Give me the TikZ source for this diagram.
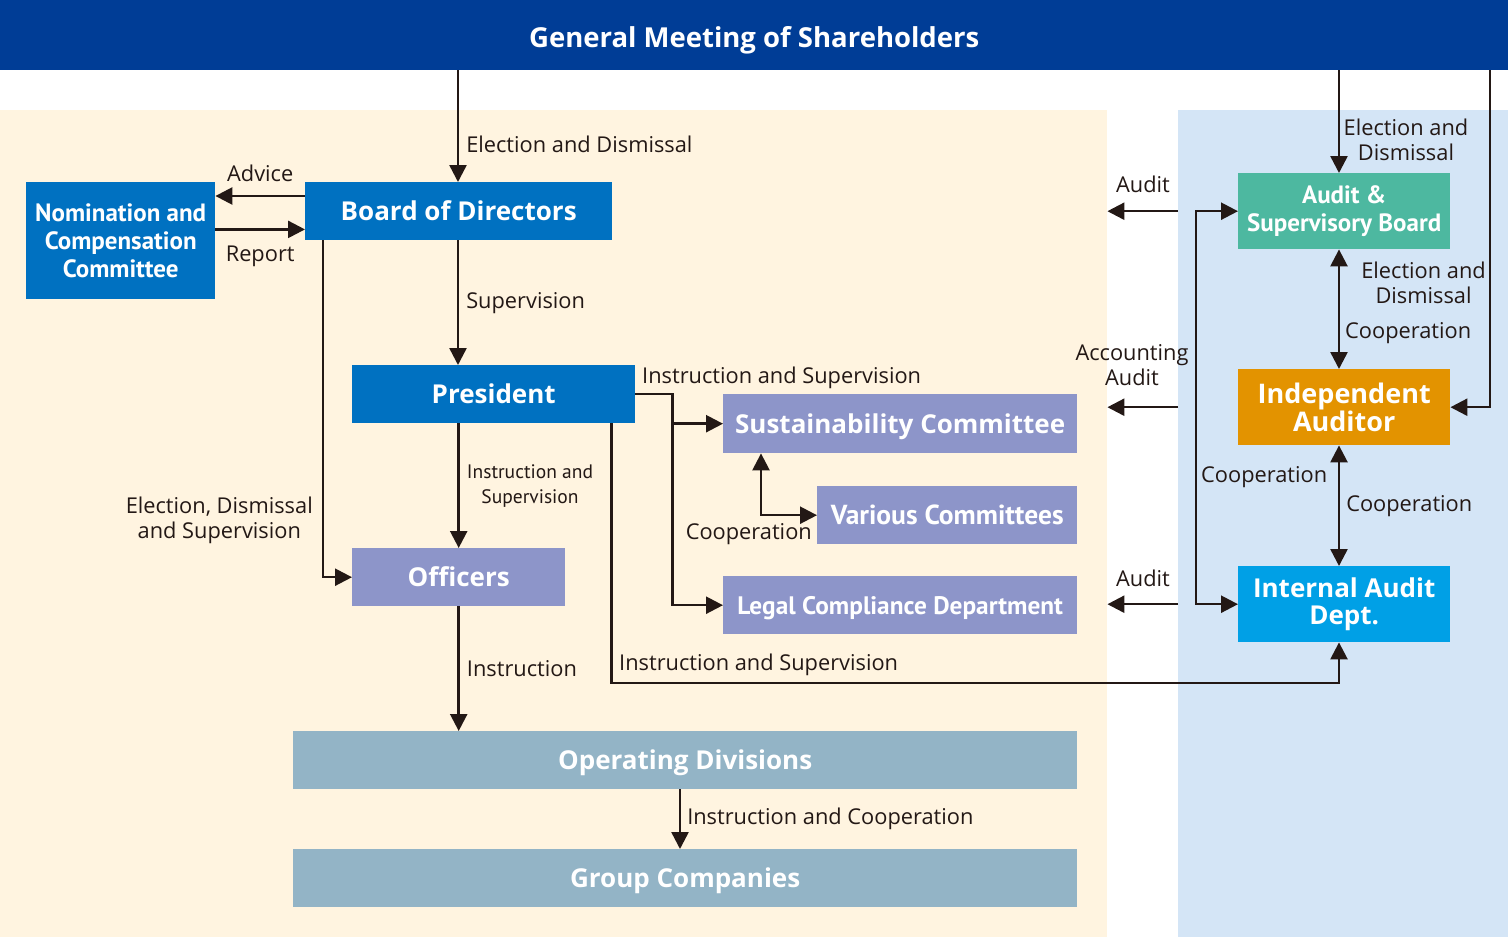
\documentclass[tikz,border=0pt]{standalone}
\usepackage{fontspec}
\setmainfont{Open Sans}
\newfontfamily\boxfont{PT Sans}
\usetikzlibrary{arrows.meta, positioning}
\definecolor{gmblue}{HTML}{003D96}
\definecolor{bdblue}{HTML}{0071C1}
\definecolor{lilac}{HTML}{8D95C9}
\definecolor{slate}{HTML}{93B4C6}
\definecolor{teal}{HTML}{4DB8A0}
\definecolor{amber}{HTML}{E39300}
\definecolor{sky}{HTML}{00A0E6}
\definecolor{cream}{HTML}{FFF4E0}
\definecolor{paleblue}{HTML}{D4E5F6}
\definecolor{ink}{HTML}{231815}
\tikzset{
x=1pt, y=-1pt, % one unit is one pixel of the layout
>={Triangle[length=17pt,width=17pt]}, % solid heads
link/.style={draw=ink, line width=2.5pt}, % every connector
box/.style={anchor=north west, inner sep=0, align=center, text=white, font=\bfseries\fontsize{26}{27}\selectfont}, % filled boxes
narrowbox/.style={box, font=\boxfont\bfseries\fontsize{25}{28}\selectfont}, % boxes with condensed text
oneline/.style={text height=18.6pt, text depth=0pt}, % centres the capitals of a single line
lbl/.style={text=ink, inner sep=0, align=center, font=\fontsize{21.8}{25}\selectfont}, % connector labels
}

\begin{document}
\begin{tikzpicture}
    \useasboundingbox (0,0) rectangle (1508,937);
    % backgrounds
    \node[anchor=north west, fill=cream, minimum width=1107, minimum height=827, inner sep=0] (house) at (0,110) {};
    \node[anchor=north west, fill=paleblue, minimum width=330, minimum height=827, inner sep=0] (auditside) at (1178,110) {};
    \node[box, fill=gmblue, minimum width=1508, minimum height=70, text height=23.6pt, text depth=0pt, font=\bfseries\fontsize{27.5}{28}\selectfont] (gm) at (0,0) {General Meeting of Shareholders};
    % executive side
    \node[box, oneline, fill=bdblue, minimum width=307, minimum height=58] (board) at (305,182) {Board of Directors};
    \node[narrowbox, fill=bdblue, minimum width=189, minimum height=117] (nom) at (26,182) {Nomination and\\Compensation\\Committee};
    \node[box, oneline, fill=bdblue, minimum width=283, minimum height=58] (president) at (352,365) {President};
    \node[box, oneline, fill=lilac, minimum width=213, minimum height=58] (officers) at (352,548) {Officers};
    \node[box, oneline, fill=lilac, minimum width=354, minimum height=59] (sust) at (723,394) {Sustainability Committee};
    \node[narrowbox, oneline, fill=lilac, minimum width=260, minimum height=58, font=\boxfont\bfseries\fontsize{27.5}{28}\selectfont] (various) at (817,486) {Various Committees};
    \node[narrowbox, oneline, fill=lilac, minimum width=354, minimum height=58, font=\boxfont\bfseries\fontsize{25.3}{26}\selectfont] (legal) at (723,576) {Legal Compliance Department};
    \node[box, oneline, fill=slate, minimum width=784, minimum height=58] (ops) at (293,731) {Operating Divisions};
    \node[box, oneline, fill=slate, minimum width=784, minimum height=58] (group) at (293,849) {Group Companies};
    % audit side
    \node[narrowbox, fill=teal, minimum width=212, minimum height=76] (asb) at (1238,173) {Audit \&\\Supervisory Board};
    \node[box, fill=amber, minimum width=212, minimum height=76, font=\bfseries\fontsize{27}{28}\selectfont] (ia) at (1238,369) {Independent\\Auditor};
    \node[box, fill=sky, minimum width=212, minimum height=76, font=\bfseries\fontsize{26}{27}\selectfont] (iad) at (1238,566) {Internal Audit\\Dept.};
    \coordinate (spine) at (1339,0);

    \draw[link, ->] (gm.south -| 458,0) -- (board.north -| 458,0) node[lbl, pos=0.66, right=7pt] {Election and Dismissal};
    \draw[link, ->] ([yshift=-14]board.north west) -- ([yshift=-14]board.north west -| nom.east) node[lbl, midway, above=13pt] {Advice};
    \draw[link, ->] ([yshift=11]board.south west -| nom.east) -- ([yshift=11]board.south west) node[lbl, midway, below=15pt] {Report};
    \draw[link, ->] (board.south -| 458,0) -- (president.north -| 458,0) node[lbl, midway, right=7pt] {Supervision};
    \draw[link, ->] ([xshift=18]board.south west) |- (officers.west);
    \node[lbl, anchor=east] (edslbl) at (313,520) {Election, Dismissal\\and Supervision};
    \draw[link, ->] (president.south -| officers.north) -- (officers.north) node[lbl, midway, right=7pt, font=\boxfont\fontsize{19.5}{25}\selectfont] {Instruction and\\Supervision};
    \draw[link, ->] (president.east) -- ++(37,0) coordinate (pbus) |- (legal.west);
    \draw[link, ->] (pbus |- sust.west) -- (sust.west);
    \node[lbl, anchor=west] (islbl) at (642,378) {Instruction and Supervision};
    \draw[link, <->] ([xshift=38]sust.south west) |- (various.west);
    \node[lbl, anchor=east] (coplbl) at (812,534) {Cooperation};
    \draw[link, ->] ([xshift=-24]president.south east) |- (spine |- 0,683) -- (spine |- iad.south);
    \node[lbl, anchor=west] (is2lbl) at (619,665) {Instruction and Supervision};
    \draw[link, ->] (officers.south) -- (officers.south |- ops.north) node[lbl, midway, right=7pt] {Instruction};
    \draw[link, ->] (ops.south -| 680,0) -- (group.north -| 680,0) node[lbl, midway, right=6pt] {Instruction and Cooperation};

    \draw[link, ->] (gm.south -| spine) -- (spine |- asb.north);
    \node[lbl] (edlbl) at (1406,140) {Election and\\Dismissal};
    \draw[link, ->] (gm.south -| 1490,0) |- (ia.east);
    \draw[link, <->] (spine |- asb.south) -- (spine |- ia.north);
    \node[lbl, anchor=east] (ed2lbl) at (1486,283) {Election and\\Dismissal};
    \node[lbl, anchor=west] (co1lbl) at (1345,333) {Cooperation};
    \draw[link, <->] (spine |- ia.south) -- (spine |- iad.north) node[lbl, midway, right=6pt] {Cooperation};
    \draw[link, <->] (asb.west) -- ++(-42,0) |- (iad.west);
    \node[lbl, anchor=west] (co2lbl) at (1201,477) {Cooperation};
    \draw[link, ->] (auditside.west |- asb.west) -- (house.east |- asb.west);
    \node[lbl] (au1lbl) at (1143,184) {Audit};
    \draw[link, ->] (auditside.west |- ia.east) -- (house.east |- ia.east);
    \node[lbl] (au2lbl) at (1132,365) {Accounting\\Audit};
    \draw[link, ->] (auditside.west |- iad.west) -- (house.east |- iad.west);
    \node[lbl] (au3lbl) at (1143,578) {Audit};
\end{tikzpicture}
\end{document}
